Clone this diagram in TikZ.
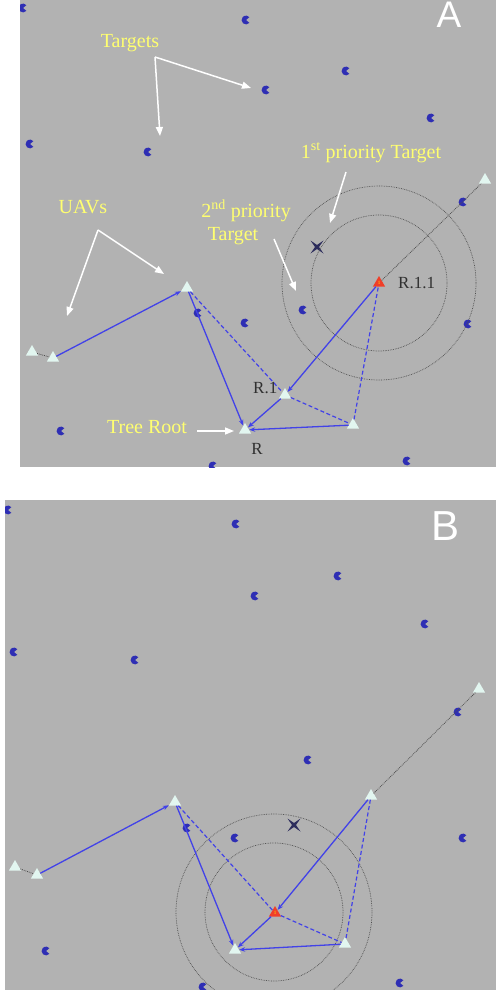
\documentclass[tikz,border=0pt]{standalone}
\usepackage{fontspec}
\setmainfont{Liberation Serif}
\newfontfamily\arialf{Liberation Sans}
\usetikzlibrary{arrows.meta,shapes.geometric}
\definecolor{bg}{RGB}{178,178,178}
\definecolor{lnblue}{RGB}{66,66,232}
\definecolor{tgtblue}{RGB}{46,46,180}
\definecolor{uavfill}{RGB}{226,246,240}
\definecolor{redt}{RGB}{240,62,40}
\definecolor{ylw}{RGB}{255,255,112}
\definecolor{lbl}{RGB}{48,48,48}
\definecolor{ringc}{RGB}{78,78,78}
\definecolor{xcol}{RGB}{44,44,92}
\begin{document}
\begin{tikzpicture}[x=1pt,y=-1pt,
 uav/.style={regular polygon,regular polygon sides=3,minimum size=14pt,inner sep=0pt,fill=uavfill},
 redv/.style={uav,fill=redt,text=yellow,font=\fontsize{5}{5}\selectfont},
 tree/.style={draw=lnblue,line width=1.3pt,-{Stealth[length=6pt,width=4.5pt]}},
 link/.style={draw=lnblue,line width=1.2pt,dash pattern=on 4pt off 2.5pt},
 trail/.style={draw=ringc,line width=0.8pt,densely dotted},
 ring/.style={draw=ringc,line width=0.7pt,densely dotted},
 callout/.style={draw=white,line width=1.5pt,-{Triangle[length=9pt,width=7pt]}},
 ylab/.style={text=ylw,font=\fontsize{20}{22}\selectfont,inner sep=0pt,anchor=base},
 nlab/.style={text=lbl,font=\fontsize{17}{19}\selectfont,inner sep=0pt,anchor=base west},
 panelbl/.style={text=white,font=\arialf\fontsize{42}{44}\selectfont,inner sep=0pt,anchor=base},
 tgt/.pic={\fill[tgtblue] (0,0) -- (40:4.4) arc[start angle=40,end angle=320,radius=4.4] -- cycle;},
 xm/.pic={\fill[xcol] (-6.5,-6.5) -- (0,-2) -- (6.5,-6.5) -- (2,0) -- (6.5,6.5) -- (0,2) -- (-6.5,6.5) -- (-2,0) -- cycle;}
]
\useasboundingbox (0,0) rectangle (496,990);
\fill[white] (0,0) rectangle (496,990);
% ---------------- Panel A ----------------
\fill[bg] (20,0) rectangle (496,467);
\begin{scope}
\clip (20,0) rectangle (496,467);
\foreach \p in {(23,8),(246,20),(266,90),(346,71),(431,118),(30,144),(148,152),(463,202),(198,313),(245,323),(61,431),(213,466),(303,310),(468,324),(407,461)}
  \pic at \p {tgt};
\end{scope}
\pic at (317,247) {xm};
\draw[ring] (379,283) circle[radius=68];
\draw[ring] (379,283) circle[radius=97];

\node[uav] (a1) at (32,352) {};
\node[uav] (a2) at (53,358) {};
\node[uav] (a3) at (187,288) {};
\node[uav] (aR) at (245,430) {};
\node[uav] (aR1) at (285,395) {};
\node[uav] (a4) at (353,425) {};
\node[redv] (aR11) at (379,283) {1};
\node[uav] (a5) at (485,180) {};

\draw[trail] (a1) -- (a2);
\draw[tree] (a2) -- (a3);
\draw[tree] (a3) -- (aR);
\draw[link] (a3) -- (aR1);
\draw[tree] (aR1) -- (aR);
\draw[tree] (a4) -- (aR);
\draw[link] (aR1) -- (a4);
\draw[link] (a4) -- (aR11);
\draw[tree] (aR11) -- (aR1);
\draw[trail] (aR11) -- (a5);

\node[ylab] (lt) at (130,48) {Targets};
\coordinate (tf) at (155,57);
\coordinate (te1) at (251,88);
\coordinate (te2) at (160,136);
\draw[callout] (tf) -- (te1);
\draw[callout] (tf) -- (te2);

\node[ylab] (lu) at (83,213) {UAVs};
\coordinate (uf) at (98,230);
\coordinate (ue1) at (164,274);
\coordinate (ue2) at (67,316);
\draw[callout] (uf) -- (ue1);
\draw[callout] (uf) -- (ue2);

\node[ylab] (l2a) at (246,217) {2\textsuperscript{nd} priority};
\node[ylab] (l2b) at (233,240) {Target};
\coordinate (s2) at (274,239);
\coordinate (e2) at (296,291);
\draw[callout] (s2) -- (e2);

\node[ylab] (l1) at (371,158) {1\textsuperscript{st} priority Target};
\coordinate (s1) at (346,172);
\coordinate (e1) at (330,223);
\draw[callout] (s1) -- (e1);

\node[ylab] (lr) at (147,433) {Tree Root};
\coordinate (sr) at (197,431);
\coordinate (er) at (234,431);
\draw[callout] (sr) -- (er);

\node[nlab] (n11) at (398,288) {R.1.1};
\node[nlab] (n1) at (253,393) {R.1};
\node[nlab,anchor=base] (n0) at (257,454) {R};
\node[panelbl,font=\arialf\fontsize{37}{40}\selectfont] (pa) at (449,28) {A};

% ---------------- Panel B ----------------
\fill[bg] (5,500) rectangle (496,990);
\begin{scope}
\clip (5,500) rectangle (496,990);
\foreach \p in {(8,510),(236,524),(255,596),(338,576),(425,624),(14,652),(135,660),(458,712),(187,828),(235,838),(46,951),(203,987),(308,760),(463,838),(400,983)}
  \pic at \p {tgt};
\end{scope}
\pic at (294,825) {xm};
\draw[ring] (274,912) circle[radius=69];
\draw[ring] (274,912) circle[radius=98];

\node[uav] (b1) at (15,867) {};
\node[uav] (b2) at (37,875) {};
\node[uav] (b3) at (175,802) {};
\node[uav] (bR) at (235,950) {};
\node[redv] (bR11) at (275,913) {1};
\node[uav] (b4) at (345,944) {};
\node[uav] (b6) at (371,796) {};
\node[uav] (b5) at (479,689) {};

\draw[trail] (b1) -- (b2);
\draw[tree] (b2) -- (b3);
\draw[tree] (b3) -- (bR);
\draw[link] (b3) -- (bR11);
\draw[tree] (bR11) -- (bR);
\draw[tree] (b4) -- (bR);
\draw[link] (bR11) -- (b4);
\draw[link] (b6) -- (b4);
\draw[tree] (b6) -- (bR11);
\draw[trail] (b6) -- (b5);

\node[panelbl] (pb) at (446,540) {B};
\end{tikzpicture}
\end{document}
